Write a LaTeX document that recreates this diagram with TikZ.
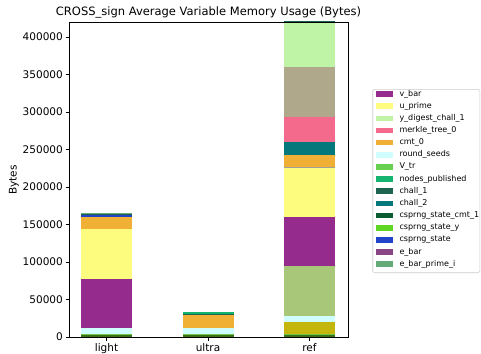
\documentclass[tikz,border=0pt]{standalone}
\usepackage{fontspec}
\setmainfont{DejaVu Sans}
\definecolor{vbar}{RGB}{148,43,141}
\definecolor{uprime}{RGB}{253,252,127}
\definecolor{ydig}{RGB}{191,244,166}
\definecolor{merkle}{RGB}{243,106,141}
\definecolor{cmtz}{RGB}{240,176,54}
\definecolor{rseeds}{RGB}{208,254,254}
\definecolor{vtr}{RGB}{104,208,80}
\definecolor{nodesp}{RGB}{18,180,112}
\definecolor{chalA}{RGB}{30,100,80}
\definecolor{chalB}{RGB}{4,120,122}
\definecolor{cspcmt}{RGB}{12,92,50}
\definecolor{cspy}{RGB}{96,214,36}
\definecolor{csp}{RGB}{34,68,200}
\definecolor{ebar}{RGB}{138,70,132}
\definecolor{ebarp}{RGB}{100,170,120}
\definecolor{tanx}{RGB}{176,168,138}
\definecolor{sage}{RGB}{168,199,120}
\definecolor{olivex}{RGB}{196,182,12}
\definecolor{botgreen}{RGB}{58,112,28}
\definecolor{thingreen}{RGB}{108,200,64}
\definecolor{sepgrey}{RGB}{160,160,150}
\tikzset{
  ticklab/.style={font=\fontsize{10.5}{12}\selectfont, inner sep=0pt},
  leglab/.style={font=\fontsize{8}{9}\selectfont, anchor=west, inner sep=0pt},
  spine/.style={line width=0.8pt, black},
}
\newcommand{\barseg}[5]{\fill[#5] (#1,#3) rectangle (#2,#4);}
\begin{document}
\begin{tikzpicture}[x=1pt,y=-1pt]
\useasboundingbox (0,0) rectangle (481,353);
\fill[white] (0,0) rectangle (481,353);
% bars (clipped to axes)
\begin{scope}
\clip (69,22) rectangle (348,337);
% light
\barseg{81}{132}{337}{335}{botgreen}
\barseg{81}{132}{335}{334}{thingreen}
\barseg{81}{132}{334}{328}{rseeds}
\barseg{81}{132}{328}{279}{vbar}
\barseg{81}{132}{279}{229}{uprime}
\barseg{81}{132}{229}{217}{cmtz}
\barseg{81}{132}{217}{214.7}{csp}
\barseg{81}{132}{214.7}{214}{chalA}
\barseg{81}{132}{214}{212.7}{ebarp}
% ultra
\barseg{182.5}{233.5}{337}{335}{botgreen}
\barseg{182.5}{233.5}{335}{334}{thingreen}
\barseg{182.5}{233.5}{334}{328.3}{rseeds}
\barseg{182.5}{233.5}{328.3}{314.7}{cmtz}
\barseg{182.5}{233.5}{314.7}{313.7}{chalA}
\barseg{182.5}{233.5}{313.7}{312}{nodesp}
% ref
\barseg{284}{335}{337}{335}{botgreen}
\barseg{284}{335}{335}{334}{thingreen}
\barseg{284}{335}{334}{322}{olivex}
\barseg{284}{335}{322}{316}{rseeds}
\barseg{284}{335}{316}{265.7}{sage}
\barseg{284}{335}{265.7}{217}{vbar}
\barseg{284}{335}{217}{167.8}{uprime}
\barseg{284}{335}{167.8}{167.3}{sepgrey}
\barseg{284}{335}{167.3}{155}{cmtz}
\barseg{284}{335}{155}{141.7}{chalB}
\barseg{284}{335}{141.7}{117}{merkle}
\barseg{284}{335}{117}{67}{tanx}
\barseg{284}{335}{67}{23.5}{ydig}
\barseg{284}{335}{23.5}{10}{chalA}
\end{scope}
% axes frame
\draw[spine] (69,22) rectangle (348,337);
% y ticks
\foreach \v [count=\i from 0] in {0,50000,100000,150000,200000,250000,300000,350000,400000}{
  \draw[spine] (69,337-37.5*\i) -- (65.5,337-37.5*\i);
  \node[ticklab, anchor=east] (yt\i) at (63,337-37.5*\i) {\v};
}
% x ticks
\foreach \lab/\xc [count=\i] in {light/106.5, ultra/208, ref/309.5}{
  \draw[spine] (\xc,337) -- (\xc,340.5);
  \node[ticklab, anchor=base] (xt\i) at (\xc,351) {\lab};
}
% labels
\node[ticklab, rotate=90] (ylab) at (14,180) {Bytes};
\node[font=\fontsize{11.5}{13}\selectfont, inner sep=0pt] (title) at (208.5,12) {CROSS\_sign Average Variable Memory Usage (Bytes)};
% legend
\draw[draw=black!20, fill=white, rounded corners=1.5pt, line width=0.6pt] (372.7,89.3) rectangle (479.8,272.7);
\foreach \c/\t [count=\i from 0] in {vbar/v\_bar, uprime/u\_prime, ydig/y\_digest\_chall\_1, merkle/merkle\_tree\_0, cmtz/cmt\_0, rseeds/round\_seeds, vtr/V\_tr, nodesp/nodes\_published, chalA/chall\_1, chalB/chall\_2, cspcmt/csprng\_state\_cmt\_1, cspy/csprng\_state\_y, csp/csprng\_state, ebar/e\_bar, ebarp/e\_bar\_prime\_i}{
  \fill[\c] (376,94+12.16*\i-2.8) rectangle (392.7,94+12.16*\i+2.8);
  \node[leglab] (leg\i) at (399.3,94+12.16*\i) {\t};
}
\end{tikzpicture}
\end{document}
